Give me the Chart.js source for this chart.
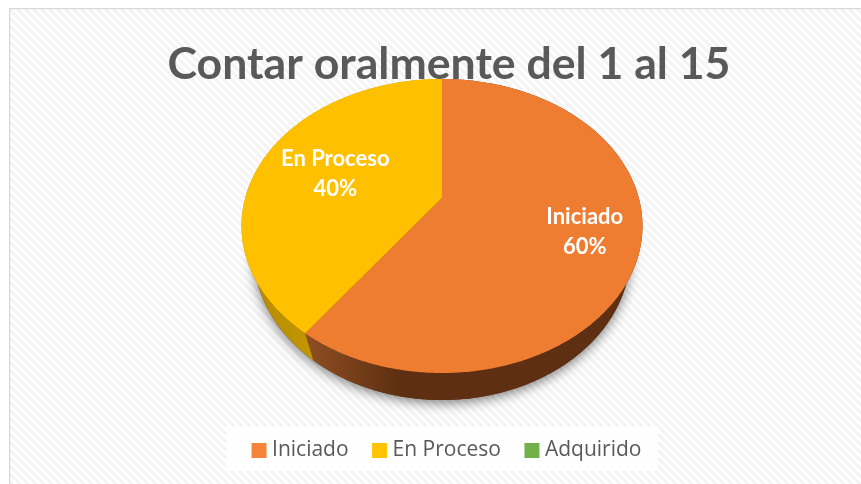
<!DOCTYPE html>
<html><head><meta charset="utf-8">
<style>html,body{margin:0;padding:0;background:#fff}canvas{display:block}</style>
<script src="https://cdn.jsdelivr.net/npm/chart.js@4"></script>
</head><body><canvas id="c" width="861" height="484"></canvas>
<script>
const titleText = 'Contar oralmente del 1 al 15';
const categories = ['Iniciado', 'En Proceso', 'Adquirido'];
const values = [60, 40, 0];
const sliceColors = ['#EF7D31', '#FFC000', '#70AD47'];
const legendColors = ['#F4853A', '#FFC400', '#72B04A'];
const sideStops = [['#8F4F22', '#5E2F12'], ['#B58C00', '#C29600'], ['#4A7A30', '#4A7A30']];
const labelRadii = [0.73, 0.59, 0.6];

// Tilted-disc view of the pie
const view = {cx: 442, cy: 198, R: 196.8, S: 141.67, k: -0.1905, depth: 27, depthScale: 0.94};
function project(X, Y, low) {
  const d = 1 + view.k * Y;
  return {
    x: view.cx + view.R * X / d * (low ? view.depthScale : 1),
    y: view.cy + view.S * Y / d + (low ? view.depth : 0)
  };
}
function arcPoints(a0, a1, low) {
  const n = Math.max(2, Math.ceil(Math.abs(a1 - a0) / 0.01));
  const pts = [];
  for (let i = 0; i <= n; i++) {
    const a = a0 + (a1 - a0) * i / n;
    pts.push(project(Math.cos(a), Math.sin(a), low));
  }
  return pts;
}
function trace(ctx, pts) {
  ctx.beginPath();
  pts.forEach((p, i) => i ? ctx.lineTo(p.x, p.y) : ctx.moveTo(p.x, p.y));
  ctx.closePath();
}
function hatch(ctx) {
  const t = document.createElement('canvas');
  t.width = t.height = 8;
  const g = t.getContext('2d');
  g.fillStyle = '#ffffff'; g.fillRect(0, 0, 8, 8);
  g.strokeStyle = '#f3f3f3'; g.lineWidth = 2.8;
  for (let o = -8; o <= 8; o += 8) {
    g.beginPath(); g.moveTo(o - 1, -1); g.lineTo(o + 9, 9); g.stroke();
  }
  return ctx.createPattern(t, 'repeat');
}
const scene = {
  id: 'scene',
  beforeDraw(chart) {
    const c = chart.ctx;
    c.save();
    c.fillStyle = '#fff'; c.fillRect(0, 0, 861, 484);
    c.fillStyle = hatch(c); c.fillRect(10, 9, 851, 475);
    c.fillStyle = '#d9d9d9'; c.fillRect(9, 8, 852, 1.3); c.fillRect(9, 8, 1.3, 476);
    c.fillStyle = 'rgba(255,255,255,0.85)'; c.fillRect(226, 426, 432, 45);
    c.restore();
  },
  beforeDatasetsDraw(chart) {
    const c = chart.ctx;
    const arcs = chart.getDatasetMeta(0).data;
    c.save();
    c.save();
    c.shadowColor = 'rgba(0,0,0,0.5)'; c.shadowBlur = 12; c.shadowOffsetY = 3;
    c.fillStyle = '#5E2F12';
    trace(c, arcPoints(0, Math.PI * 2, true)); c.fill();
    c.restore();
    arcs.forEach((a, i) => {
      if (a.endAngle - a.startAngle <= 0) return;
      const hi = arcPoints(a.startAngle, a.endAngle, false);
      const lo = arcPoints(a.startAngle, a.endAngle, true).reverse();
      const bound = i === 0 ? [305, 400] : [250, 310];
      const g = c.createLinearGradient(bound[0], 0, bound[1], 0);
      g.addColorStop(0, sideStops[i][0]); g.addColorStop(1, sideStops[i][1]);
      c.fillStyle = g;
      trace(c, hi.concat(lo)); c.fill();
    });
    arcs.forEach((a, i) => {
      if (a.endAngle - a.startAngle <= 0) return;
      const pts = [project(0, 0, false)].concat(arcPoints(a.startAngle, a.endAngle, false));
      c.fillStyle = sliceColors[i];
      trace(c, pts); c.fill();
    });
    const total = values.reduce((s, v) => s + v, 0);
    c.fillStyle = '#fff';
    c.font = 'bold 22px Lato';
    c.textAlign = 'center'; c.textBaseline = 'middle';
    arcs.forEach((a, i) => {
      if (values[i] <= 0) return;
      const m = (a.startAngle + a.endAngle) / 2, r = labelRadii[i];
      const p = project(r * Math.cos(m), r * Math.sin(m), false);
      c.fillText(categories[i], p.x, p.y - 14);
      c.fillText(Math.round(values[i] / total * 100) + '%', p.x, p.y + 16);
    });
    c.restore();
    return false;
  }
};
new Chart(document.getElementById('c'), {
  type: 'pie',
  data: {labels: categories, datasets: [{data: values, backgroundColor: sliceColors, borderWidth: 0}]},
  plugins: [scene],
  options: {
    responsive: false, animation: false,
    layout: {padding: {left: 37, right: 0, top: 0, bottom: 13}},
    plugins: {
      tooltip: {enabled: false},
      title: {display: true, text: titleText, color: '#595959',
        font: {family: 'Lato', weight: 'bold', size: 44.6}, padding: {top: 38, bottom: 0}},
      legend: {position: 'bottom',
        labels: {boxWidth: 5, boxHeight: 5, padding: 28.5, color: '#595959',
          font: {family: 'Open Sans', size: 21},
          generateLabels: () => categories.map((t, i) => ({
            text: t, fillStyle: legendColors[i], strokeStyle: legendColors[i],
            lineWidth: 10, fontColor: '#595959', index: i, hidden: false }))}}
    }
  }
});
</script></body></html>
